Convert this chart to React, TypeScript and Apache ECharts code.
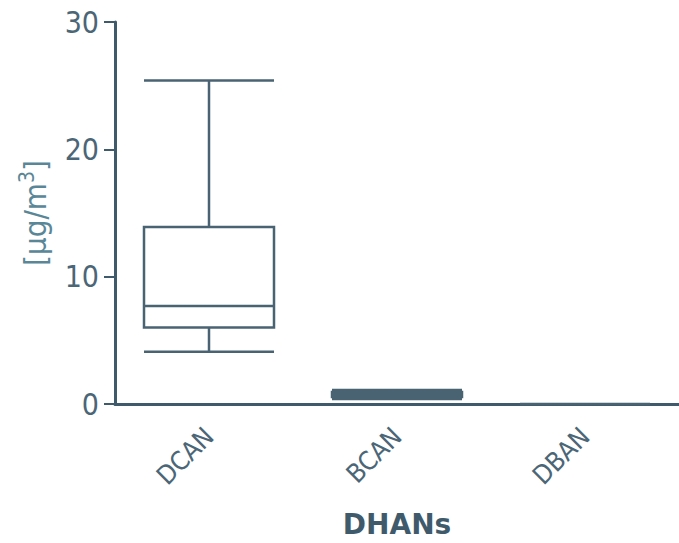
import React, { useEffect, useRef } from "react";
import * as echarts from "echarts";

const categories = ["DCAN", "BCAN", "DBAN"];
// [min, Q1, median, Q3, max]
const dcanBox = [4.1, 6.0, 7.7, 13.9, 25.4];
const bcanBox = [0.4, 0.55, 0.75, 0.95, 1.1];
const dbanBox = [0, 0, 0, 0, 0];
const yTicks = [0, 10, 20, 30];

const AXIS = "#3f5b6b";
const TEXT = "#4b6676";

export default function App() {
  const ref = useRef<HTMLDivElement>(null);
  useEffect(() => {
    if (!ref.current) return;
    const chart = echarts.init(ref.current, null, { renderer: "svg" });
    chart.setOption({
      animation: false,
      backgroundColor: "#ffffff",
      grid: { left: 115, right: 0, top: 22, bottom: 130, containLabel: false },
      xAxis: {
        type: "category",
        data: categories,
        boundaryGap: true,
        axisLine: { show: true, lineStyle: { color: AXIS, width: 3 } },
        axisTick: { show: false },
        axisLabel: {
          rotate: 45,
          color: TEXT,
          fontSize: 26,
          fontFamily: "DejaVu Sans Condensed, DejaVu Sans",
          margin: 28,
        },
        name: "DHANs",
        nameLocation: "middle",
        nameGap: 106,
        nameTextStyle: {
          color: AXIS,
          fontSize: 28,
          fontWeight: "bold",
          fontFamily: "DejaVu Sans",
        },
      },
      yAxis: {
        type: "value",
        min: yTicks[0],
        max: yTicks[yTicks.length - 1],
        interval: 10,
        splitLine: { show: false },
        axisLine: { show: true, lineStyle: { color: AXIS, width: 3 } },
        axisTick: { show: true, length: 11, lineStyle: { color: AXIS, width: 2 } },
        axisLabel: {
          color: TEXT,
          fontSize: 30,
          fontFamily: "DejaVu Sans Condensed, DejaVu Sans",
          margin: 16,
        },
        name: "{a|[μg/m}{s|3}{a|]}",
        nameLocation: "middle",
        nameRotate: 90,
        nameGap: 62,
        nameTextStyle: {
          rich: {
            a: { color: "#5a8797", fontSize: 31, fontFamily: "DejaVu Sans Condensed, DejaVu Sans" },
            s: {
              color: "#5a8797",
              fontSize: 21,
              fontFamily: "DejaVu Sans Condensed, DejaVu Sans",
              verticalAlign: "top",
              padding: [0, 0, 16, 0],
            },
          },
        },
      },
      series: [
        {
          type: "boxplot",
          data: [dcanBox, bcanBox, dbanBox],
          boxWidth: [130, 130],
          itemStyle: { color: "rgba(255,255,255,0)", borderColor: "#4a6373", borderWidth: 2.5 },
        },
      ],
    });
    return () => chart.dispose();
  }, []);
  return <div ref={ref} style={{ width: 679, height: 543, position: "absolute", left: 0, top: 0 }} />;
}
